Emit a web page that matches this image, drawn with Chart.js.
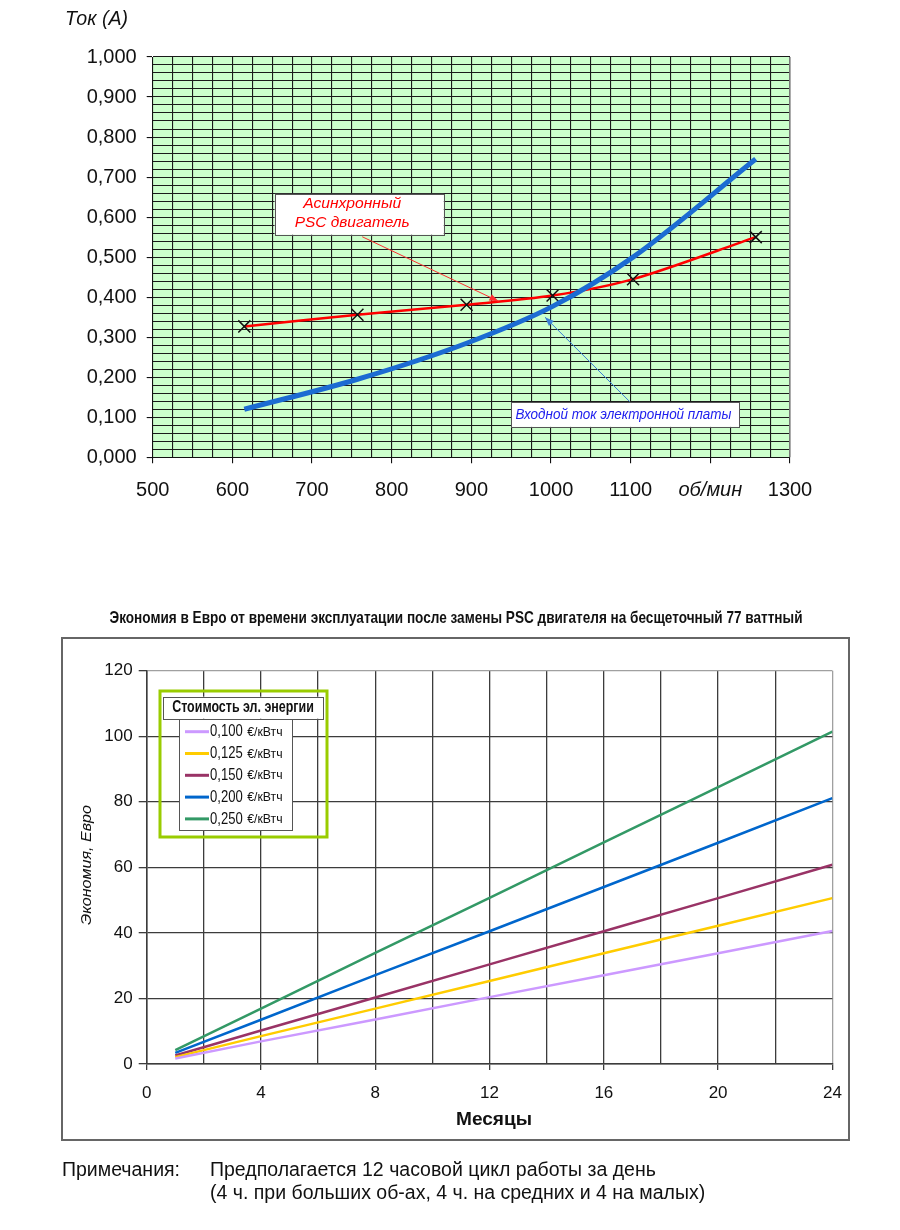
<!DOCTYPE html>
<html>
<head>
<meta charset="utf-8">
<script src="https://cdn.jsdelivr.net/npm/chart.js@4.4.1/dist/chart.umd.min.js"></script>
<style>
html,body{margin:0;padding:0;background:#fff;width:900px;height:1230px;overflow:hidden;font-family:"Liberation Sans",Arial,sans-serif;}
#c1{position:absolute;left:0;top:0;}
#c2{position:absolute;left:0;top:595px;}
.note{position:absolute;font-size:19.5px;line-height:23px;color:#111;white-space:nowrap;}
</style>
</head>
<body>
<canvas id="c1" width="900" height="530"></canvas>
<canvas id="c2" width="900" height="565"></canvas>
<div class="note" style="left:62px;top:1158px">Примечания:</div>
<div class="note" style="left:210px;top:1158px">Предполагается 12 часовой цикл работы за день</div>
<div class="note" style="left:210px;top:1181px">(4 ч. при больших об-ах, 4 ч. на средних и 4 на малых)</div>
<script>
// ---------- data: chart 1 ----------
const rpm = [615, 757, 894, 1002, 1103, 1257];
const pscCurrent = [0.327, 0.356, 0.381, 0.404, 0.445, 0.550];
const boardCurrent = [0.120, 0.195, 0.285, 0.377, 0.500, 0.745];
const rpmTickLabels = ['500', '600', '700', '800', '900', '1000', '1100', 'об/мин', '1300'];
const currentTickLabels = ['0,000', '0,100', '0,200', '0,300', '0,400', '0,500', '0,600', '0,700', '0,800', '0,900', '1,000'];
const seriesNames1 = ['Входной ток электронной платы', 'Асинхронный PSC двигатель'];

// ---------- data: chart 2 ----------
const months = [1, 4, 8, 12, 16, 20, 24];
const save100 = [1.7, 6.9, 13.6, 20.4, 27.1, 33.8, 40.6];
const save125 = [2.1, 8.5, 16.9, 25.3, 33.8, 42.2, 50.6];
const save150 = [2.6, 10.2, 20.3, 30.4, 40.5, 50.6, 60.8];
const save200 = [3.4, 13.5, 27.1, 40.5, 54.0, 67.5, 81.1];
const save250 = [4.2, 16.9, 33.9, 50.7, 67.6, 84.5, 101.4];
const tariffLabels = ['0,100', '0,125', '0,150', '0,200', '0,250'];
const tariffUnit = '€/кВтч';
const monthTickLabels = ['0', '4', '8', '12', '16', '20', '24'];
const savingTickLabels = ['0', '20', '40', '60', '80', '100', '120'];

const SANS = '"Liberation Sans", Arial, sans-serif';
const NARROW = '"Liberation Sans Narrow", "Liberation Sans", Arial, sans-serif';

function fitText(ctx, text, x, y, width, font, color, align) {
  ctx.save();
  ctx.font = font;
  ctx.fillStyle = color;
  ctx.textBaseline = 'middle';
  ctx.textAlign = align || 'left';
  const w = ctx.measureText(text).width;
  const s = w > 0 ? width / w : 1;
  ctx.translate(x, y);
  ctx.scale(s, 1);
  ctx.fillText(text, 0, 0);
  ctx.restore();
}

function arrow(ctx, from, to, color) {
  ctx.save();
  ctx.strokeStyle = color;
  ctx.fillStyle = color;
  ctx.lineWidth = 1;
  ctx.beginPath();
  ctx.moveTo(from[0], from[1]);
  ctx.lineTo(to[0], to[1]);
  ctx.stroke();
  const ang = Math.atan2(to[1] - from[1], to[0] - from[0]);
  const L = 9, W = 3.5;
  ctx.beginPath();
  ctx.moveTo(to[0], to[1]);
  ctx.lineTo(to[0] - L * Math.cos(ang) + W * Math.sin(ang), to[1] - L * Math.sin(ang) - W * Math.cos(ang));
  ctx.lineTo(to[0] - L * Math.cos(ang) - W * Math.sin(ang), to[1] - L * Math.sin(ang) + W * Math.cos(ang));
  ctx.closePath();
  ctx.fill();
  ctx.restore();
}

function whiteBox(ctx, p1, p2) {
  ctx.save();
  const x = Math.min(p1[0], p2[0]), y = Math.min(p1[1], p2[1]);
  const w = Math.abs(p2[0] - p1[0]), h = Math.abs(p2[1] - p1[1]);
  ctx.fillStyle = '#fff';
  ctx.fillRect(x, y, w, h);
  ctx.strokeStyle = '#555';
  ctx.lineWidth = 1;
  ctx.strokeRect(Math.round(x) + 0.5, Math.round(y) + 0.5, Math.round(w), Math.round(h));
  ctx.restore();
}

// ---------- chart 1 ----------
const deco1 = {
  id: 'deco1',
  beforeDraw(chart) {
    const {ctx, chartArea: a} = chart;
    ctx.save();
    ctx.fillStyle = '#ccffcc';
    ctx.fillRect(a.left, a.top, a.right - a.left, a.bottom - a.top);
    ctx.restore();
    fitText(ctx, 'Ток (А)', 65, 19, 63, 'italic 20px ' + SANS, '#111', 'left');
  },
  afterDraw(chart) {
    const {ctx, chartArea: a} = chart;
    const xs = chart.scales.x, ys = chart.scales.y;
    const P = (vx, vy) => [xs.getPixelForValue(vx), ys.getPixelForValue(vy)];
    ctx.save();
    ctx.strokeStyle = '#999';
    ctx.lineWidth = 1.5;
    ctx.beginPath();
    ctx.moveTo(a.right, a.top);
    ctx.lineTo(a.right, a.bottom);
    ctx.stroke();
    ctx.restore();
    // red annotation
    arrow(ctx, P(763, 0.551), P(934, 0.390), '#ff3030');
    whiteBox(ctx, P(653, 0.658), P(865.4, 0.556));
    fitText(ctx, 'Асинхронный', xs.getPixelForValue(750.4), ys.getPixelForValue(0.633), 98, 'italic 15px ' + SANS, '#ff0000', 'center');
    fitText(ctx, 'PSC двигатель', xs.getPixelForValue(750.4), ys.getPixelForValue(0.586), 115, 'italic 15px ' + SANS, '#ff0000', 'center');
    // blue annotation
    arrow(ctx, P(1098.8, 0.139), P(992.5, 0.350), '#3b7fd4');
    whiteBox(ctx, P(950, 0.138), P(1236.6, 0.076));
    fitText(ctx, seriesNames1[0], xs.getPixelForValue(955.4), ys.getPixelForValue(0.106), 216, 'italic 14px ' + SANS, '#2020ee', 'left');
  }
};

new Chart(document.getElementById('c1'), {
  type: 'line',
  data: {
    datasets: [
      {
        label: seriesNames1[0],
        data: rpm.map((x, i) => ({x: x, y: boardCurrent[i]})),
        borderColor: '#1c6bd2',
        borderWidth: 5,
        cubicInterpolationMode: 'monotone',
        pointRadius: 0,
        fill: false
      },
      {
        label: seriesNames1[1],
        data: rpm.map((x, i) => ({x: x, y: pscCurrent[i]})),
        borderColor: '#ff0000',
        borderWidth: 2.5,
        tension: 0.3,
        pointStyle: 'crossRot',
        pointRadius: 8.5,
        pointBorderColor: '#111',
        pointBackgroundColor: 'rgba(0,0,0,0)',
        pointBorderWidth: 1.5,
        fill: false
      }
    ]
  },
  options: {
    responsive: false,
    animation: false,
    devicePixelRatio: 1,
    layout: {padding: {left: 0, right: 110, top: 57, bottom: 0}},
    plugins: {legend: {display: false}, tooltip: {enabled: false}},
    scales: {
      x: {
        type: 'linear', min: 500, max: 1300,
        afterFit: s => { s.height = 72.7; },
        ticks: {
          stepSize: 25, autoSkip: false, maxRotation: 0, minRotation: 0, padding: 15, color: '#111',
          callback: v => (v % 100 === 0 ? rpmTickLabels[(v - 500) / 100] : ''),
          font: ctx => ({family: SANS, size: 20, style: (ctx.tick && ctx.tick.value === 1200) ? 'italic' : 'normal'})
        },
        grid: {
          color: '#1a1a1a', lineWidth: 1.1, tickLength: 6,
          tickColor: ctx => (ctx.tick && ctx.tick.value % 100 === 0 ? '#111' : 'rgba(0,0,0,0)')
        },
        border: {display: true, color: '#111', width: 1}
      },
      y: {
        type: 'linear', min: 0, max: 1,
        afterFit: s => { s.width = 152.7; },
        ticks: {
          stepSize: 0.02, autoSkip: false, padding: 10, color: '#111',
          font: {family: SANS, size: 20},
          callback: v => { const k = Math.round(v * 100); return k % 10 === 0 ? currentTickLabels[k / 10] : ''; }
        },
        grid: {
          color: '#1a1a1a', lineWidth: 1.1, tickLength: 6,
          tickColor: ctx => (ctx.tick && Math.round(ctx.tick.value * 100) % 10 === 0 ? '#111' : 'rgba(0,0,0,0)')
        },
        border: {display: true, color: '#111', width: 1}
      }
    }
  },
  plugins: [deco1]
});

// ---------- chart 2 ----------
const lineColors2 = ['#cc99ff', '#ffcc00', '#993366', '#0066cc', '#339966'];
const seriesValues2 = [save100, save125, save150, save200, save250];

const deco2 = {
  id: 'deco2',
  beforeDraw(chart) {
    const {ctx} = chart;
    ctx.save();
    ctx.strokeStyle = '#666';
    ctx.lineWidth = 2;
    ctx.strokeRect(62, 43, 787, 502);
    ctx.restore();
    fitText(ctx, 'Экономия в Евро от времени эксплуатации после замены PSC двигателя на бесщеточный 77 ваттный',
      456, 23, 693, 'bold 17px ' + NARROW, '#111', 'center');
  },
  afterDraw(chart) {
    const {ctx} = chart;
    // axis titles
    ctx.save();
    ctx.translate(87, 270);
    ctx.rotate(-Math.PI / 2);
    fitText(ctx, 'Экономия, Евро', 0, 0, 120, 'italic 15px ' + SANS, '#111', 'center');
    ctx.restore();
    fitText(ctx, 'Месяцы', 494, 525, 76, 'bold 19px ' + SANS, '#111', 'center');
    // legend
    ctx.save();
    ctx.strokeStyle = '#99cc00';
    ctx.lineWidth = 3;
    ctx.strokeRect(160, 96, 167, 146);
    ctx.restore();
    whiteBox(ctx, [163.3, 101.7], [323.3, 123.7]);
    fitText(ctx, 'Стоимость эл. энергии', 243, 112.7, 141.6, 'bold 16px ' + NARROW, '#111', 'center');
    whiteBox(ctx, [179.3, 124.3], [292.3, 235]);
    chart.data.datasets.forEach((ds, i) => {
      const cy = 136.7 + i * 21.8;
      ctx.save();
      ctx.strokeStyle = ds.borderColor;
      ctx.lineWidth = 3;
      ctx.beginPath();
      ctx.moveTo(185, cy);
      ctx.lineTo(209, cy);
      ctx.stroke();
      ctx.restore();
      fitText(ctx, tariffLabels[i], 210, cy, 32.7, '17px ' + NARROW, '#111', 'left');
      fitText(ctx, tariffUnit, 247.3, cy + 0.5, 35.3, '13px ' + NARROW, '#111', 'left');
    });
  }
};

new Chart(document.getElementById('c2'), {
  type: 'line',
  data: {
    datasets: seriesValues2.map((vals, i) => ({
      label: tariffLabels[i] + ' ' + tariffUnit,
      data: months.map((m, j) => ({x: m, y: vals[j]})),
      borderColor: lineColors2[i],
      borderWidth: 2.5,
      pointRadius: 0,
      tension: 0,
      fill: false
    }))
  },
  options: {
    responsive: false,
    animation: false,
    devicePixelRatio: 1,
    layout: {padding: {left: 0, right: 67.6, top: 75.7, bottom: 0}},
    plugins: {legend: {display: false}, tooltip: {enabled: false}},
    scales: {
      x: {
        type: 'linear', min: 0, max: 24,
        afterFit: s => { s.height = 96; },
        ticks: {
          stepSize: 2, autoSkip: false, maxRotation: 0, minRotation: 0, padding: 13, color: '#111',
          font: {family: SANS, size: 17},
          callback: v => (v % 4 === 0 ? monthTickLabels[v / 4] : '')
        },
        grid: {
          color: ctx => (ctx.tick && ctx.tick.value === 24 ? '#a0a0a0' : '#3c3c3c'),
          lineWidth: 1.3, tickLength: 6,
          tickColor: ctx => (ctx.tick && ctx.tick.value % 4 === 0 ? '#3c3c3c' : 'rgba(0,0,0,0)')
        },
        border: {display: true, color: '#3c3c3c', width: 1.5}
      },
      y: {
        type: 'linear', min: 0, max: 120,
        afterFit: s => { s.width = 146.7; },
        ticks: {
          stepSize: 20, autoSkip: false, padding: 6, color: '#111',
          font: {family: SANS, size: 17},
          callback: v => savingTickLabels[Math.round(v / 20)]
        },
        grid: {
          color: ctx => (ctx.tick && ctx.tick.value === 120 ? '#a0a0a0' : '#3c3c3c'),
          lineWidth: 1.3, tickLength: 8, tickColor: '#3c3c3c'
        },
        border: {display: true, color: '#3c3c3c', width: 1.5}
      }
    }
  },
  plugins: [deco2]
});
</script>
</body>
</html>
